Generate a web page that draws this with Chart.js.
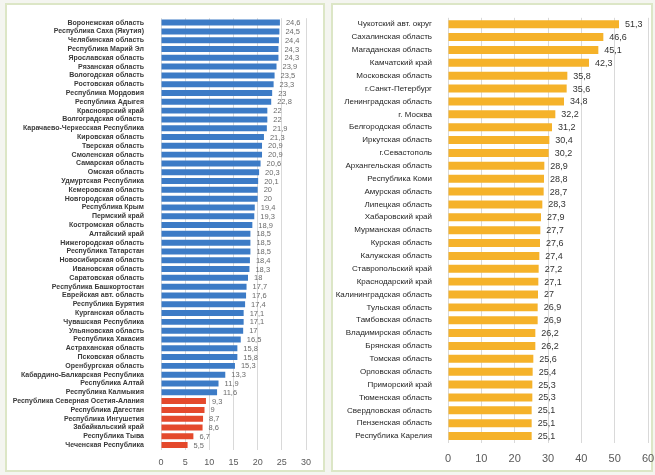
<!DOCTYPE html>
<html lang="ru">
<head>
<meta charset="UTF-8" />
<title>Regions</title>
<script src="https://cdn.jsdelivr.net/npm/chart.js"></script>
<style>
  body { margin: 0; background: #f4f5f0; width: 655px; height: 475px; position: relative; overflow: hidden; }
  .panel { position: absolute; background: #fff; border: 2px solid #dce6c6; box-sizing: border-box; }
  canvas { position: absolute; }
</style>
</head>
<body>
<div class="panel" style="left:5px; top:3px; width:320px; height:469px;"></div>
<div class="panel" style="left:331px; top:3px; width:322px; height:469px;"></div>
<canvas id="leftChart" style="left:7px; top:5px; width:315px; height:465px;"></canvas>
<canvas id="rightChart" style="left:333px; top:5px; width:322px; height:465px;"></canvas>
<script>
const leftRegions = [
  "Воронежская область", "Республика Саха (Якутия)", "Челябинская область", "Республика Марий Эл",
  "Ярославская область", "Рязанская область", "Вологодская область", "Ростовская область",
  "Республика Мордовия", "Республика Адыгея", "Красноярский край", "Волгоградская область",
  "Карачаево-Черкесская Республика", "Кировская область", "Тверская область", "Смоленская область",
  "Самарская область", "Омская область", "Удмуртская Республика", "Кемеровская область",
  "Новгородская область", "Республика Крым", "Пермский край", "Костромская область",
  "Алтайский край", "Нижегородская область", "Республика Татарстан", "Новосибирская область",
  "Ивановская область", "Саратовская область", "Республика Башкортостан", "Еврейская авт. область",
  "Республика Бурятия", "Курганская область", "Чувашская Республика", "Ульяновская область",
  "Республика Хакасия", "Астраханская область", "Псковская область", "Оренбургская область",
  "Кабардино-Балкарская Республика", "Республика Алтай", "Республика Калмыкия",
  "Республика Северная Осетия-Алания", "Республика Дагестан", "Республика Ингушетия",
  "Забайкальский край", "Республика Тыва", "Чеченская Республика"
];
const leftValues = [
  24.6, 24.5, 24.4, 24.3, 24.3, 23.9, 23.5, 23.3, 23, 22.8, 22, 22, 21.9, 21.3, 20.9, 20.9,
  20.6, 20.3, 20.1, 20, 20, 19.4, 19.3, 18.9, 18.5, 18.5, 18.5, 18.4, 18.3, 18, 17.7, 17.6,
  17.4, 17.1, 17.1, 17, 16.5, 15.8, 15.8, 15.3, 13.3, 11.9, 11.6, 9.3, 9, 8.7, 8.6, 6.7, 5.5
];
const leftTicks = [0, 5, 10, 15, 20, 25, 30];

const rightRegions = [
  "Чукотский авт. округ", "Сахалинская область", "Магаданская область", "Камчатский край",
  "Московская область", "г.Санкт-Петербург", "Ленинградская область", "г. Москва",
  "Белгородская область", "Иркутская область", "г.Севастополь", "Архангельская область",
  "Республика Коми", "Амурская область", "Липецкая область", "Хабаровский край",
  "Мурманская область", "Курская область", "Калужская область", "Ставропольский край",
  "Краснодарский край", "Калининградская область", "Тульская область", "Тамбовская область",
  "Владимирская область", "Брянская область", "Томская область", "Орловская область",
  "Приморский край", "Тюменская область", "Свердловская область", "Пензенская область",
  "Республика Карелия"
];
const rightValues = [
  51.3, 46.6, 45.1, 42.3, 35.8, 35.6, 34.8, 32.2, 31.2, 30.4, 30.2, 28.9, 28.8, 28.7, 28.3,
  27.9, 27.7, 27.6, 27.4, 27.2, 27.1, 27, 26.9, 26.9, 26.2, 26.2, 25.6, 25.4, 25.3, 25.3,
  25.1, 25.1, 25.1
];
const rightTicks = [0, 10, 20, 30, 40, 50, 60];

// first red bar on the left chart
const redFrom = 43;

const fmt = v => String(v).replace(".", ",");

// value labels next to bar ends
const valueLabels = {
  id: "valueLabels",
  afterDatasetsDraw(chart, args, opts) {
    const ctx = chart.ctx;
    const meta = chart.getDatasetMeta(0);
    const data = chart.data.datasets[0].data;
    ctx.save();
    ctx.font = opts.font;
    ctx.fillStyle = opts.color;
    ctx.textBaseline = "middle";
    ctx.textAlign = "left";
    meta.data.forEach((bar, i) => {
      ctx.fillText(fmt(data[i]), bar.x + opts.gap, bar.y + 0.5);
    });
    ctx.restore();
  }
};

function makeChart(id, labels, values, colors, ticks, cfg) {
  return new Chart(document.getElementById(id), {
    type: "bar",
    data: {
      labels: labels,
      datasets: [{
        data: values,
        backgroundColor: colors,
        barPercentage: cfg.barPct,
        categoryPercentage: 1
      }]
    },
    plugins: [valueLabels],
    options: {
      indexAxis: "y",
      responsive: false,
      animation: false,
      devicePixelRatio: 1,
      layout: { padding: cfg.padding },
      plugins: {
        legend: { display: false },
        tooltip: { enabled: false },
        valueLabels: cfg.valueLabels
      },
      scales: {
        x: {
          min: ticks[0],
          max: ticks[ticks.length - 1],
          afterBuildTicks: s => { s.ticks = ticks.map(v => ({ value: v })); },
          afterFit: s => { s.height = cfg.xHeight; },
          grid: { color: "#d9d9d9", drawTicks: true, tickLength: cfg.xTickPad, tickColor: "transparent" },
          border: { display: false },
          ticks: {
            padding: 0,
            color: "#595959",
            font: { family: "Liberation Sans", size: cfg.xFont }
          }
        },
        y: {
          afterFit: s => { s.width = cfg.yWidth; },
          grid: { display: false },
          border: { display: false },
          ticks: {
            autoSkip: false,
            padding: cfg.yTickPad,
            color: cfg.yColor,
            font: { family: "Liberation Sans", size: cfg.yFont, weight: cfg.yWeight }
          }
        }
      }
    }
  });
}

const leftCanvas = document.getElementById("leftChart");
leftCanvas.width = 315; leftCanvas.height = 465;
const rightCanvas = document.getElementById("rightChart");
rightCanvas.width = 322; rightCanvas.height = 465;

makeChart("leftChart", leftRegions, leftValues,
  leftValues.map((v, i) => i >= redFrom ? "#e4492c" : "#3c7bc6"), leftTicks, {
    barPct: 0.68,
    padding: { left: 0, right: 16, top: 7.5, bottom: 0.5 },
    xHeight: 20, xTickPad: 8, xFont: 9,
    yWidth: 154, yTickPad: 9, yFont: 7, yWeight: "bold", yColor: "#3a3a3a",
    valueLabels: { font: "7.5px 'Liberation Sans'", color: "#6b6b6b", gap: 6 }
  });

makeChart("rightChart", rightRegions, rightValues, "#f5b22a", rightTicks, {
    barPct: 0.62,
    padding: { left: 0, right: 7, top: 10.5, bottom: 3.5 },
    xHeight: 24, xTickPad: 10, xFont: 11,
    yWidth: 115, yTickPad: 8, yFont: 8, yWeight: "normal", yColor: "#262626",
    valueLabels: { font: "9px 'Liberation Sans'", color: "#333", gap: 6 }
  });
</script>
</body>
</html>
